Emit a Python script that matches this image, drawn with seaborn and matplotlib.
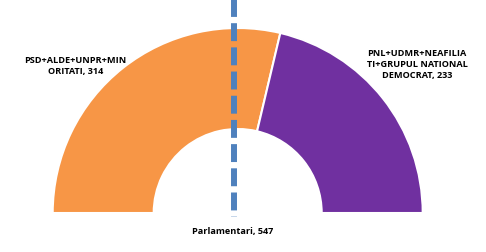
import matplotlib
matplotlib.use("Agg")
import matplotlib.pyplot as plt
import seaborn as sns

# Data
categories = ["PSD+ALDE+UNPR+MIN\nORITATI", "PNL+UDMR+NEAFILIA\nTI+GRUPUL NATIONAL\nDEMOCRAT"]
seats = [314, 233]
total_label = "Parlamentari"
total = sum(seats)
colors = ["#F79646", "#7030A0"]

sns.set_theme(style="white")
plt.rcParams['font.family'] = ['Open Sans', 'DejaVu Sans']

W, H = 486, 253
fig = plt.figure(figsize=(W / 100, H / 100), dpi=100)
ax = fig.add_axes([0, 0, 1, 1])

cx, cy = 237.7, H - 214
r_out, r_in = 185, 84

ax.pie(seats + [total], colors=colors + ["none"], startangle=180, counterclock=False,
       radius=r_out, center=(cx, cy), frame=True,
       wedgeprops=dict(width=r_out - r_in, edgecolor="white", linewidth=1.5))
for w in ax.patches[2:]:
    w.set_edgecolor("none")

# dashed vertical line
ax.plot([234, 234], [H, H - 218], color="#4F81BD", linewidth=4.3,
        dashes=(3.0, 1.05), solid_capstyle="butt", dash_capstyle="butt")

fs = 6.6
ax.text(75.5, H - 66, f"{categories[0]}, {seats[0]}", ha="center", va="center",
        fontsize=fs, fontweight="bold", color="black", linespacing=1.35)
ax.text(417, H - 64.5, f"{categories[1]}, {seats[1]}", ha="center", va="center",
        fontsize=fs, fontweight="bold", color="black", linespacing=1.35)
ax.text(233, H - 232, f"{total_label}, {total}", ha="center", va="center",
        fontsize=fs, fontweight="bold", color="black")

ax.set_xlim(0, W)
ax.set_ylim(0, H)
ax.set_aspect("equal")
ax.axis("off")
fig.savefig("out.png", dpi=100, facecolor="white")
